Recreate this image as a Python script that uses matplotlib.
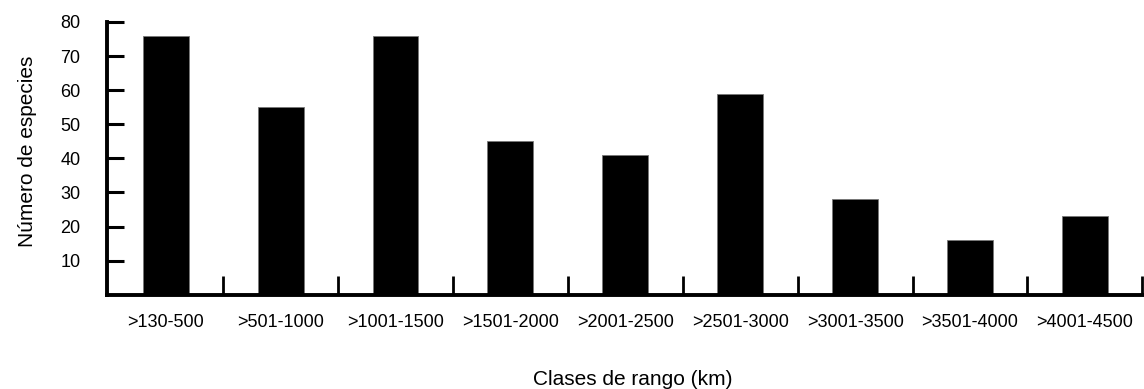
import matplotlib.pyplot as plt
import numpy as np

plt.rcParams['font.family'] = ['Liberation Sans', 'DejaVu Sans']

clases = [">130-500", ">501-1000", ">1001-1500", ">1501-2000", ">2001-2500",
          ">2501-3000", ">3001-3500", ">3501-4000", ">4001-4500"]
especies = [76, 55, 76, 45, 41, 59, 28, 16, 23]
yticks = [10, 20, 30, 40, 50, 60, 70, 80]

fig = plt.figure(figsize=(11.44, 3.89), dpi=100)
ax = fig.add_axes([107 / 1144, 1 - 294.7 / 389, 1036 / 1144, 272.7 / 389])

x = np.arange(len(clases))
ax.bar(x, especies, width=0.40, color="black", edgecolor="#777777", linewidth=0.6)

ax.set_xlim(-0.511, 8.506)
ax.set_ylim(0, 80)

# etiquetas centradas nas barras, marcas entre clases
ax.set_xticks(x)
ax.set_xticklabels(clases, fontsize=13)
ax.set_xticks(x + 0.5, minor=True)
ax.tick_params(axis="x", which="major", length=0, pad=14)
ax.tick_params(axis="x", which="minor", direction="in", length=14, width=2)

ax.set_yticks(yticks)
ax.set_yticklabels([str(v) for v in yticks], fontsize=13)
ax.tick_params(axis="y", direction="in", length=12, width=2.2, pad=19)

for s in ["top", "right"]:
    ax.spines[s].set_visible(False)
ax.spines["left"].set_linewidth(2.8)
ax.spines["bottom"].set_linewidth(2.8)

ax.set_ylabel("Número de especies", fontsize=15)
ax.yaxis.set_label_coords(-0.068, 0.524)
ax.set_xlabel("Clases de rango (km)", fontsize=15, va="top")
ax.xaxis.set_label_coords(0.507, -0.276)

plt.savefig("out.png", dpi=100)
plt.close()
